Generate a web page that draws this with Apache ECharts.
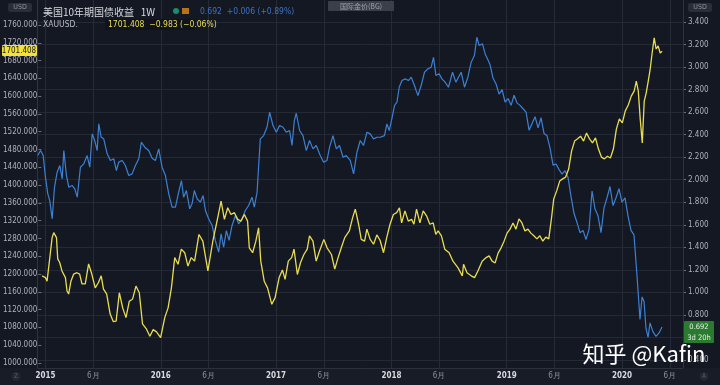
<!DOCTYPE html>
<html><head><meta charset="utf-8">
<script src="https://cdn.jsdelivr.net/npm/echarts@6/dist/echarts.min.js"></script>
<style>html,body{margin:0;padding:0;background:#141823;}#c{width:720px;height:385px;}</style>
</head><body><div id="c"></div><script>
// years since 2015 and XAUUSD weekly close
const goldYears = [-0.058,-0.029,-0.015,0.009,0.029,0.043,0.067,0.078,0.095,0.115,
0.130,0.145,0.159,0.173,0.193,0.217,0.245,0.269,0.289,0.318,
0.347,0.375,0.405,0.433,0.457,0.477,0.505,0.535,0.563,0.587,
0.615,0.644,0.673,0.702,0.731,0.760,0.789,0.817,0.852,0.881,
0.910,0.939,0.975,
1.011,1.040,1.069,1.098,1.127,1.155,1.185,1.213,1.242,1.271,
1.309,1.343,1.387,1.430,1.473,1.502,1.531,1.560,1.588,1.618,
1.647,1.675,1.705,1.733,1.748,1.777,1.805,1.829,1.848,1.878,
1.907,1.944,1.973,2.008,2.037,2.060,2.088,2.117,2.138,2.167,
2.195,2.224,2.253,2.273,2.303,2.331,2.360,2.398,2.426,2.464,
2.493,2.522,2.550,2.580,2.620,2.649,2.672,2.701,2.724,2.753,
2.773,2.802,2.831,2.860,2.888,2.918,2.946,2.975,3.004,3.033,
3.057,3.076,3.105,3.134,3.163,3.183,3.206,3.235,3.264,3.293,
3.322,3.351,3.374,3.394,3.423,3.452,3.490,3.524,3.568,3.605,
3.616,3.646,3.683,3.712,3.741,3.778,3.813,
3.839,3.865,3.891,3.917,3.943,3.969,3.995,4.021,4.047,4.073,
4.099,4.125,4.151,4.177,4.203,4.229,4.255,4.281,4.307,4.333,
4.359,4.385,4.402,4.428,4.454,4.480,4.506,4.532,4.558,4.584,
4.610,4.636,4.662,4.688,4.714,4.740,4.766,4.792,4.818,4.844,
4.870,4.896,4.922,4.948,4.974,5.000,5.026,5.052,5.078,5.104,
5.122,5.139,5.156,5.174,5.191,5.208,5.226,5.243,5.260,5.278,
5.295,5.312,5.330,5.347];
const goldPrice = [1196,1192,1184,1237,1282,1293,1282,1234,1226,1207,
1211,1192,1162,1155,1184,1200,1203,1200,1178,1178,
1223,1200,1169,1181,1196,1166,1155,1110,1093,1094,
1158,1124,1102,1139,1144,1173,1158,1088,1076,1060,
1075,1070,1057,
1102,1124,1169,1237,1222,1256,1248,1218,1237,1229,
1289,1274,1207,1274,1327,1364,1323,1349,1334,1338,
1323,1319,1334,1319,1259,1248,1274,1304,1229,1184,
1169,1132,1147,1192,1209,1188,1229,1237,1256,1199,
1226,1244,1256,1286,1274,1229,1252,1278,1259,1244,
1211,1237,1259,1282,1297,1327,1346,1312,1278,1274,
1301,1278,1267,1288,1276,1248,1282,1312,1334,1338,
1349,1315,1342,1319,1323,1312,1346,1315,1342,1331,
1312,1315,1289,1297,1286,1256,1248,1229,1214,1196,
1222,1203,1196,1192,1207,1229,1237,
1241,1229,1225,1247,1259,1274,1292,1301,1315,1301,
1324,1315,1297,1301,1292,1286,1279,1286,1274,1283,
1279,1331,1369,1387,1409,1414,1418,1436,1477,1499,
1504,1510,1499,1517,1504,1495,1506,1481,1463,1459,
1465,1461,1481,1526,1549,1540,1567,1580,1600,1612,
1634,1612,1549,1495,1589,1607,1634,1661,1697,1731,
1706,1713,1697,1701];
// years since 2015 and US 10Y yield (%)
const yieldYears = [-0.067,-0.043,-0.020,0.000,0.020,0.037,0.058,0.078,0.101,0.124,
0.145,0.159,0.182,0.202,0.231,0.254,0.275,0.303,0.332,0.361,
0.384,0.405,0.427,0.448,0.462,0.483,0.505,0.535,0.563,0.592,
0.615,0.635,0.665,0.693,0.722,0.751,0.780,0.809,0.832,0.861,
0.895,0.925,0.953,0.982,
1.011,1.040,1.069,1.098,1.127,1.155,1.179,1.198,1.222,1.251,
1.271,1.291,1.315,1.343,1.367,1.387,1.415,1.445,1.473,1.502,
1.523,1.545,1.569,1.592,1.618,1.647,1.675,1.705,1.733,1.762,
1.791,1.811,1.835,
1.848,1.863,1.892,1.921,1.944,1.973,2.002,2.030,2.060,2.088,
2.117,2.138,2.158,2.175,2.204,2.233,2.262,2.290,2.320,2.348,
2.383,2.412,2.441,2.464,2.493,2.522,2.550,2.580,2.608,2.643,
2.672,2.701,2.730,2.758,2.788,2.816,2.845,2.874,2.903,
2.940,2.961,2.981,3.004,3.027,3.048,3.068,3.091,3.120,3.148,
3.172,3.200,3.230,3.258,3.287,3.316,3.345,3.365,3.386,3.414,
3.438,3.466,3.495,3.530,3.559,3.582,3.605,3.634,3.663,3.692,
3.720,3.741,3.761,3.790,3.813,
3.830,3.856,3.882,3.908,3.934,3.960,3.986,4.012,4.038,4.064,
4.090,4.116,4.142,4.168,4.194,4.220,4.246,4.272,4.298,4.324,
4.350,4.376,4.402,4.428,4.454,4.480,4.506,4.532,4.558,4.584,
4.610,4.636,4.662,4.688,4.714,4.740,4.766,4.792,4.818,4.844,
4.870,4.896,4.922,4.948,4.974,5.000,5.026,5.052,5.078,5.104,
5.130,5.156,5.174,5.191,5.208,5.226,5.243,5.269,5.295,5.321,5.347];
const yieldPct = [2.215,2.26,2.215,2.02,1.875,1.815,1.653,1.933,2.067,2.126,
2.008,2.259,2.037,1.933,1.949,1.919,1.845,2.111,2.141,2.215,
2.111,2.407,2.348,2.259,2.496,2.377,2.363,2.230,2.171,2.186,
2.082,2.156,2.171,2.126,2.037,2.052,2.126,2.186,2.333,2.289,
2.259,2.190,2.170,2.274,
2.111,2.037,1.875,1.756,1.756,1.889,1.993,1.845,1.904,1.742,
1.786,1.904,1.831,1.801,1.860,1.727,1.653,1.594,1.461,1.357,
1.520,1.401,1.549,1.461,1.594,1.683,1.609,1.653,1.727,1.771,
1.845,1.756,1.889,
2.111,2.363,2.392,2.466,2.599,2.481,2.422,2.481,2.466,2.422,
2.437,2.304,2.525,2.590,2.437,2.392,2.259,2.348,2.274,2.304,
2.215,2.156,2.171,2.289,2.392,2.274,2.304,2.200,2.215,2.171,
2.052,2.244,2.348,2.304,2.422,2.407,2.363,2.377,2.377,
2.392,2.496,2.437,2.540,2.659,2.688,2.821,2.880,2.895,2.880,
2.910,2.836,2.747,2.836,2.954,2.984,2.999,3.087,2.925,2.940,
2.895,2.866,2.821,2.954,2.866,2.910,2.954,2.821,2.910,3.043,
3.102,3.265,3.191,3.206,3.117,
3.08,3.02,2.90,2.85,2.76,2.80,2.69,2.72,2.66,2.75,
2.68,2.66,2.63,2.60,2.44,2.50,2.56,2.46,2.55,2.41,
2.39,2.28,2.13,2.14,2.09,2.05,2.08,2.02,1.85,1.70,
1.62,1.53,1.55,1.47,1.56,1.90,1.74,1.68,1.53,1.75,
1.84,1.94,1.77,1.84,1.92,1.80,1.84,1.68,1.55,1.51,
1.15,0.76,0.96,0.92,0.68,0.60,0.73,0.65,0.61,0.64,0.692];
const xTickValues = [2015,2015.414,2016,2016.415,2017,2017.414,2018,2018.414,2019,2019.414,2020,2020.415];
const xTickLabels = ['2015','6月','2016','6月','2017','6月','2018','6月','2019','6月','2020','6月'];
const goldAxis = {min:1000, max:1760, step:40};
const yieldAxis = {min:0.4, max:3.4, step:0.2};
const xRange = {min:2014.935, max:2020.529};
const legendYield = {name:'美国10年期国债收益', period:'1W', last:'0.692', chg:'+0.006 (+0.89%)'};
const legendGold = {name:'XAUUSD.', last:'1701.408', chg:'−0.983 (−0.06%)'};

const YELLOW = '#e8dd52', BLUE = '#3d80d2';
const FONT = "'Liberation Sans Narrow','DejaVu Sans Condensed','Liberation Sans',sans-serif";
const chart = echarts.init(document.getElementById('c'));
const gridBase = {left:38, right:37};
const hiddenX = i => ({type:'value', gridIndex:i, min:xRange.min, max:xRange.max, show:false});
chart.setOption({
  backgroundColor:'#141823',
  animation:false,
  grid:[
    Object.assign({top:25, bottom:22}, gridBase),
    Object.assign({top:22, bottom:25}, gridBase),
    Object.assign({top:0, bottom:17}, gridBase)
  ],
  xAxis:[hiddenX(0), hiddenX(1), {
    type:'value', gridIndex:2, min:xRange.min, max:xRange.max,
    axisLine:{show:true, lineStyle:{color:'#2b303c'}},
    axisTick:{show:false, customValues:xTickValues},
    splitLine:{show:true, lineStyle:{color:'#262b37', width:1}},
    axisLabel:{customValues:xTickValues, margin:4, fontSize:8, fontFamily:FONT,
      formatter:v=>{const i=xTickValues.findIndex(x=>Math.abs(x-v)<1e-6); const s=xTickLabels[i]||''; return s.indexOf('月')>=0?'{m|'+s+'}':'{y|'+s+'}';},
      rich:{y:{color:'#d8dae0', fontWeight:'bold', fontSize:8, fontFamily:FONT}, m:{color:'#8a8e99', fontSize:8, fontFamily:FONT}}}
  }],
  yAxis:[{
    type:'value', gridIndex:0, position:'left', min:goldAxis.min, max:goldAxis.max, interval:goldAxis.step,
    axisLine:{show:false}, axisTick:{show:true, length:3, lineStyle:{color:'#6b6f7a'}},
    splitLine:{show:false},
    axisLabel:{color:'#aeb1ba', fontSize:8, fontFamily:FONT, margin:4, formatter:v=>v.toFixed(3)}
  },{
    type:'value', gridIndex:1, position:'right', min:yieldAxis.min, max:yieldAxis.max, interval:yieldAxis.step,
    axisLine:{show:false}, axisTick:{show:true, length:3, lineStyle:{color:'#6b6f7a'}},
    splitLine:{show:true, lineStyle:{color:'#242935', width:1}},
    axisLabel:{color:'#aeb1ba', fontSize:8, fontFamily:FONT, margin:5, formatter:v=>v.toFixed(3)}
  },{
    type:'value', gridIndex:2, min:0, max:1, show:false
  }],
  series:[{
    type:'line', xAxisIndex:1, yAxisIndex:1, showSymbol:false, z:3,
    lineStyle:{color:BLUE, width:1.2},
    data:yieldYears.map((t,i)=>[2015+t, yieldPct[i]])
  },{
    type:'line', xAxisIndex:0, yAxisIndex:0, showSymbol:false, z:4,
    lineStyle:{color:YELLOW, width:1.3},
    data:goldYears.map((t,i)=>[2015+t, goldPrice[i]])
  }],
  graphic:{elements:[
    {type:'rect', shape:{x:0,y:368,width:720,height:17}, style:{fill:'#181c27'}, z:-5, silent:true},
    {type:'line', shape:{x1:37.5,y1:0,x2:37.5,y2:368}, style:{stroke:'#2f3440', lineWidth:1}, z:1},
    {type:'line', shape:{x1:683.5,y1:0,x2:683.5,y2:368}, style:{stroke:'#2f3440', lineWidth:1}, z:1},
    {type:'rect', shape:{x:8,y:3,width:24,height:9,r:2}, style:{fill:'#2a2e39'}, z:10},
    {type:'text', x:20, y:7.5, style:{text:'USD', fill:'#8d919b', fontSize:7, fontFamily:FONT, align:'center', verticalAlign:'middle'}, z:11},
    {type:'rect', shape:{x:688,y:3,width:24,height:9,r:2}, style:{fill:'#2a2e39'}, z:10},
    {type:'text', x:700, y:7.5, style:{text:'USD', fill:'#8d919b', fontSize:7, fontFamily:FONT, align:'center', verticalAlign:'middle'}, z:11},
    {type:'rect', shape:{x:328,y:1,width:66,height:10,r:1}, style:{fill:'#3a3f4b'}, z:10},
    {type:'text', x:361, y:6, style:{text:'国际金价(BG)', fill:'#9ea2ab', fontSize:7, fontFamily:"'Noto Sans CJK SC',sans-serif", align:'center', verticalAlign:'middle'}, z:11},
    {type:'text', x:43, y:12, style:{text:legendYield.name+'   '+legendYield.period, fill:'#d6d8de', fontSize:10, fontFamily:"'Noto Sans CJK SC',sans-serif", verticalAlign:'middle'}, z:11},
    {type:'circle', shape:{cx:176,cy:11,r:3}, style:{fill:'#1f8a70'}, z:11},
    {type:'rect', shape:{x:182,y:8,width:7,height:6}, style:{fill:'#b5741c'}, z:11},
    {type:'text', x:200, y:12, style:{text:legendYield.last+'  '+legendYield.chg, fill:'#3a74c4', fontSize:8.5, fontFamily:FONT, verticalAlign:'middle'}, z:11},
    {type:'text', x:43, y:24.5, style:{text:legendGold.name, fill:'#b7bac2', fontSize:8.5, fontFamily:FONT, verticalAlign:'middle'}, z:11},
    {type:'rect', shape:{x:105,y:19,width:90,height:11}, style:{fill:'#10131b'}, z:10},
    {type:'text', x:108, y:24.5, style:{text:legendGold.last+'  '+legendGold.chg, fill:YELLOW, fontSize:8.5, fontFamily:FONT, verticalAlign:'middle'}, z:11},
    {type:'rect', shape:{x:2,y:45,width:35,height:11,r:1}, style:{fill:'#f2e23a'}, z:20},
    {type:'text', x:19, y:50.5, style:{text:legendGold.last, fill:'#1a1a1a', fontSize:8, fontFamily:FONT, align:'center', verticalAlign:'middle'}, z:21},
    {type:'rect', shape:{x:684,y:321,width:30,height:22,r:1}, style:{fill:'#2a7a30'}, z:20},
    {type:'text', x:699, y:327, style:{text:legendYield.last, fill:'#e8f2e8', fontSize:7.5, fontFamily:FONT, align:'center', verticalAlign:'middle'}, z:21},
    {type:'text', x:699, y:338, style:{text:'3d 20h', fill:'#e8f2e8', fontSize:7.5, fontFamily:FONT, align:'center', verticalAlign:'middle'}, z:21},
    {type:'circle', shape:{cx:16,cy:376.5,r:4.5}, style:{fill:'#232733'}, z:10},
    {type:'text', x:16, y:376.5, style:{text:'Z', fill:'#5a5e69', fontSize:6.5, fontFamily:FONT, align:'center', verticalAlign:'middle'}, z:11},
    {type:'circle', shape:{cx:704,cy:376.5,r:4.5}, style:{fill:'#232733'}, z:10},
    {type:'text', x:704, y:376.5, style:{text:'A', fill:'#5a5e69', fontSize:6.5, fontFamily:FONT, align:'center', verticalAlign:'middle'}, z:11},
    {type:'text', x:644, y:354, style:{text:'知乎 @Kafin', fill:'#ffffff', fontSize:22, fontFamily:"'Noto Sans CJK SC',sans-serif", align:'center', verticalAlign:'middle'}, z:30}
  ]}
});
</script></body></html>
